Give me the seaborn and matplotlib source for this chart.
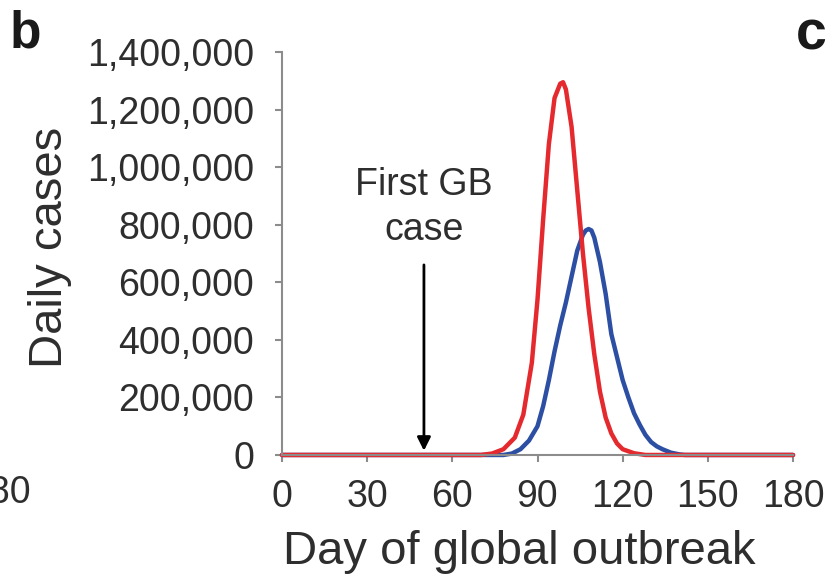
import matplotlib
matplotlib.use("Agg")
import matplotlib.pyplot as plt
import matplotlib.ticker as mticker
import seaborn as sns
import pandas as pd

# values (daily cases)
red_days = [0, 70, 74, 78, 82, 85, 88, 90, 92, 94, 96, 98, 99, 100, 102, 104, 106,
            108, 110, 112, 114, 116, 118, 120, 124, 128, 180]
red_cases = [0, 0, 5000, 20000, 60000, 140000, 320000, 540000, 820000, 1080000,
             1240000, 1290000, 1295000, 1270000, 1140000, 920000, 700000, 510000,
             350000, 220000, 130000, 75000, 40000, 20000, 6000, 0, 0]

blue_days = [0, 78, 81, 84, 87, 90, 92, 94, 96, 98, 100, 102, 104, 106, 107, 108,
             109, 110, 112, 114, 116, 118, 120, 122, 124, 126, 128, 130, 132, 134,
             137, 140, 142, 180]
blue_cases = [0, 0, 5000, 20000, 50000, 100000, 170000, 260000, 360000, 450000,
              530000, 620000, 710000, 765000, 780000, 785000, 780000, 755000,
              670000, 560000, 420000, 340000, 260000, 200000, 145000, 105000,
              70000, 45000, 30000, 20000, 8000, 2000, 0, 0]

x_ticks = [0, 30, 60, 90, 120, 150, 180]
y_ticks = [0, 200000, 400000, 600000, 800000, 1000000, 1200000, 1400000]
first_gb_day = 50

red = pd.DataFrame({"day": red_days, "cases": red_cases})
blue = pd.DataFrame({"day": blue_days, "cases": blue_cases})

sns.set_theme(style="ticks")
plt.rcParams["font.family"] = ["Liberation Sans", "DejaVu Sans"]

fig = plt.figure(figsize=(8.36, 5.83), dpi=100)
ax = fig.add_axes([0.3373, 0.2196, 0.6113, 0.6912])

sns.lineplot(data=blue, x="day", y="cases", color="#2d4fa3", lw=3.2, ax=ax, clip_on=False)
sns.lineplot(data=red, x="day", y="cases", color="#e42a2e", lw=3.2, ax=ax, clip_on=False)

ax.set_xlim(0, 180)
ax.set_ylim(0, 1400000)
ax.set_xticks(x_ticks)
ax.set_yticks(y_ticks)
ax.yaxis.set_major_formatter(mticker.FuncFormatter(lambda v, p: f"{v:,.0f}"))

for s in ["top", "right"]:
    ax.spines[s].set_visible(False)
for s in ["left", "bottom"]:
    ax.spines[s].set_color("#8c8c8c")
    ax.spines[s].set_linewidth(1.5)
ax.tick_params(axis="both", direction="out", length=5, width=1.5, color="#8c8c8c",
               labelsize=27, labelcolor="#2e2e2e")
ax.tick_params(axis="y", pad=15)
ax.tick_params(axis="x", pad=12)

ax.set_xlabel("Day of global outbreak", fontsize=34, color="#2e2e2e")
ax.set_ylabel("Daily cases", fontsize=34, color="#2e2e2e")
ax.xaxis.set_label_coords(0.465, -0.185)
ax.yaxis.set_label_coords(-0.41, 0.514)

ax.text(first_gb_day, 860000, "First GB\ncase", ha="center", va="center",
        fontsize=27, color="#2e2e2e", linespacing=1.3)
ax.annotate("", xy=(first_gb_day, 5000), xytext=(first_gb_day, 670000),
            arrowprops=dict(arrowstyle="-|>", color="black", lw=2, mutation_scale=20))

fig.text(10 / 836, 1 - 48 / 583, "b", fontsize=37, fontweight="heavy", color="#1a1a1a")
fig.text(796 / 836, 1 - 50 / 583, "c", fontsize=40, fontweight="heavy", color="#1a1a1a")
fig.text(31 / 836, 1 - 493 / 583, "180", fontsize=27, ha="right", va="center", color="#2e2e2e")

fig.savefig("out.png", dpi=100, facecolor="white")
